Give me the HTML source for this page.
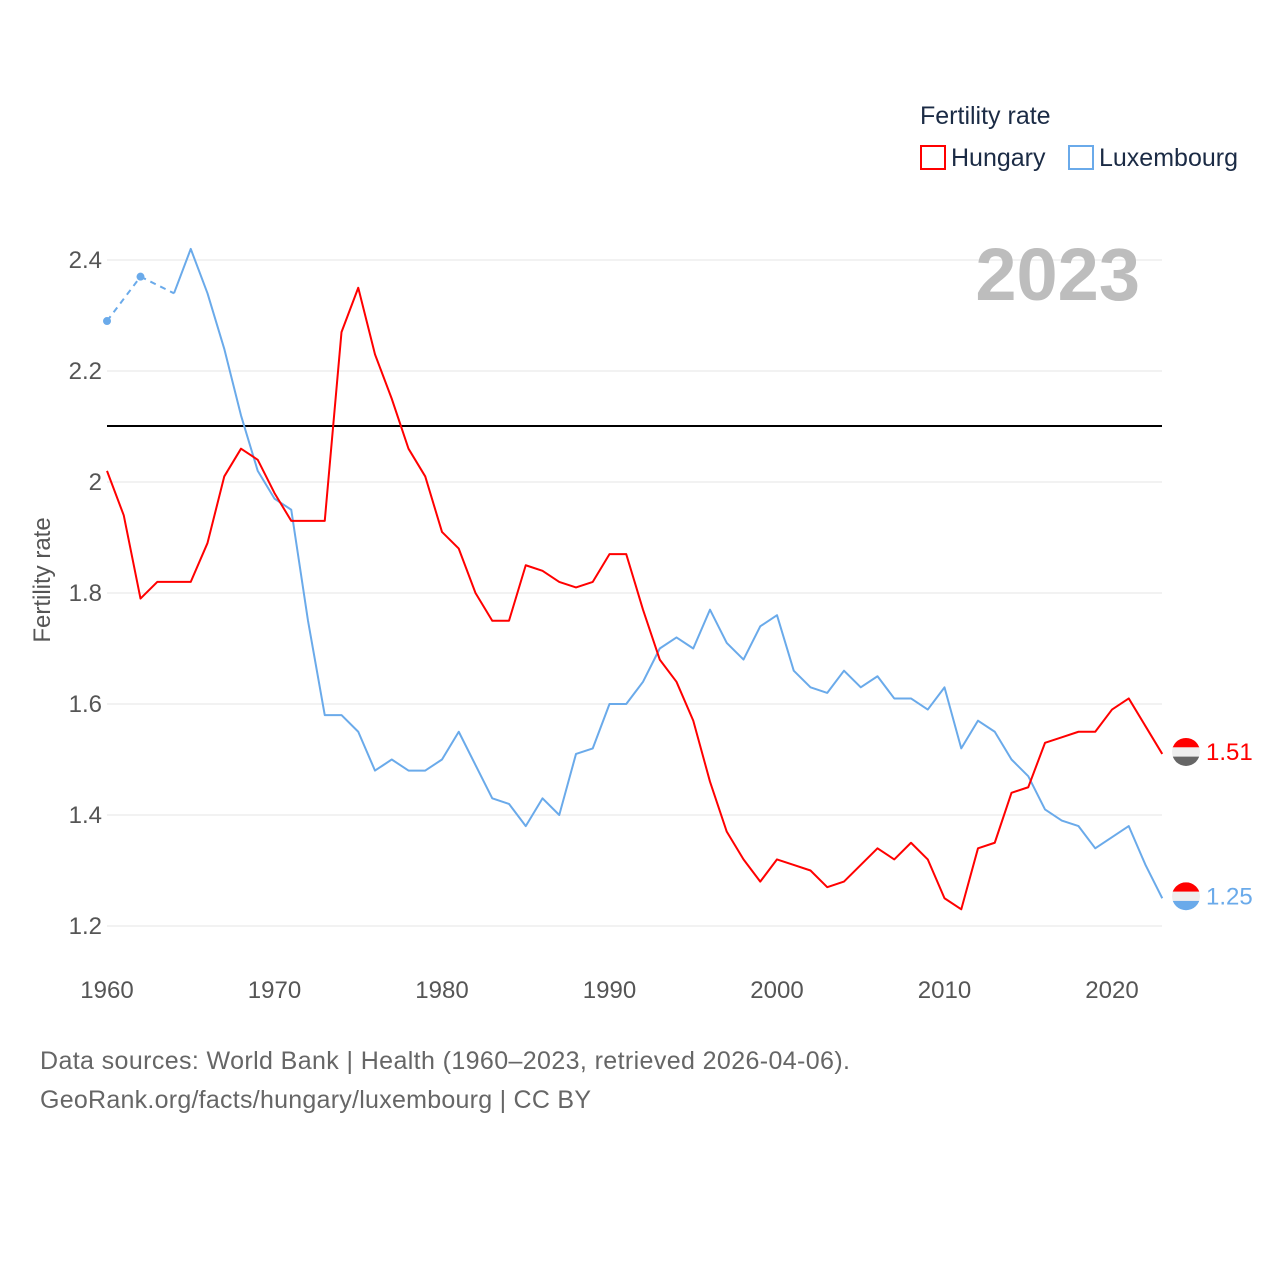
<!DOCTYPE html>
<html><head><meta charset="utf-8"><style>
body{margin:0;background:#fff;}
svg text{font-family:"Liberation Sans",sans-serif;}
</style></head><body>
<svg width="1280" height="1280" xmlns="http://www.w3.org/2000/svg">
<g id="grid"></g>
<g id="xt"></g>
<text x="50" y="580" transform="rotate(-90 50 580)" font-size="24" fill="#555" text-anchor="middle">Fertility rate</text>
<text x="1140" y="300" font-size="74" font-weight="bold" fill="#bdbdbd" text-anchor="end">2023</text>
<line x1="107" x2="1162" y1="426" y2="426" stroke="#000" stroke-width="2"/>
<g id="series"></g>
<text x="920" y="124" font-size="25" fill="#1b2b45">Fertility rate</text>
<g><rect x="921" y="146" width="24" height="23" fill="none" stroke="#f00" stroke-width="2"/><text x="951" y="166" font-size="25" fill="#1b2b45">Hungary</text></g>
<g><rect x="1069" y="146" width="24" height="23" fill="none" stroke="#6aaaea" stroke-width="2"/><text x="1099" y="166" font-size="25" fill="#1b2b45">Luxembourg</text></g>
<text x="40" y="1069" font-size="25" fill="#666" textLength="810" lengthAdjust="spacing">Data sources: World Bank | Health (1960–2023, retrieved 2026-04-06).</text>
<text x="40" y="1108" font-size="25" fill="#666" textLength="551" lengthAdjust="spacing">GeoRank.org/facts/hungary/luxembourg | CC BY</text>
</svg>
<script>
const years=[];for(let y=1960;y<=2023;y++)years.push(y);
const hungary=[2.02,1.94,1.79,1.82,1.82,1.82,1.89,2.01,2.06,2.04,1.98,1.93,1.93,1.93,2.27,2.35,2.23,2.15,2.06,2.01,1.91,1.88,1.80,1.75,1.75,1.85,1.84,1.82,1.81,1.82,1.87,1.87,1.77,1.68,1.64,1.57,1.46,1.37,1.32,1.28,1.32,1.31,1.30,1.27,1.28,1.31,1.34,1.32,1.35,1.32,1.25,1.23,1.34,1.35,1.44,1.45,1.53,1.54,1.55,1.55,1.59,1.61,1.56,1.51];
const luxembourg=[2.29,null,2.37,null,2.34,2.42,2.34,2.24,2.12,2.02,1.97,1.95,1.75,1.58,1.58,1.55,1.48,1.50,1.48,1.48,1.50,1.55,1.49,1.43,1.42,1.38,1.43,1.40,1.51,1.52,1.60,1.60,1.64,1.70,1.72,1.70,1.77,1.71,1.68,1.74,1.76,1.66,1.63,1.62,1.66,1.63,1.65,1.61,1.61,1.59,1.63,1.52,1.57,1.55,1.50,1.47,1.41,1.39,1.38,1.34,1.36,1.38,1.31,1.25];
const yTicks=[1.2,1.4,1.6,1.8,2,2.2,2.4];
const xTicks=[1960,1970,1980,1990,2000,2010,2020];
const X=y=>107+(y-1960)*16.75;
const Y=v=>926-(v-1.2)*555;
const NS="http://www.w3.org/2000/svg";
function el(t,a,p){const e=document.createElementNS(NS,t);for(const k in a)e.setAttribute(k,a[k]);document.getElementById(p).appendChild(e);return e;}
yTicks.forEach(v=>{
 const l=el('line',{x1:107,x2:1162,y1:Y(v),y2:Y(v),stroke:'#e6e6e6','stroke-width':1},'grid');
 
 
 const t=el('text',{x:102,y:Y(v)+8,'font-size':24,fill:'#555','text-anchor':'end'},'grid');
 t.textContent=String(v);
 
 
});
xTicks.forEach(v=>{
 const t=el('text',{x:X(v),y:998,'font-size':24,fill:'#555','text-anchor':'middle'},'xt');
 t.textContent=v;
 
 
});
function draw(vals,color,name){
 const idx=vals.map((v,i)=>v==null?null:i).filter(i=>i!=null);
 let segs=[],cur=[];
 for(let k=0;k<idx.length;k++){
  const i=idx[k];
  if(k>0&&i-idx[k-1]>1){
   const d=el('line',{x1:X(years[idx[k-1]]),y1:Y(vals[idx[k-1]]),x2:X(years[i]),y2:Y(vals[i]),stroke:color,'stroke-width':2,'stroke-dasharray':'6,5'},'series');
   
   
   [idx[k-1]].forEach(j=>{if(j==0||vals[j-1]==null||vals[j+1]==null){const c=el('circle',{cx:X(years[j]),cy:Y(vals[j]),r:4,fill:color},'series');}});
   if(cur.length>1)segs.push(cur);cur=[];
  }
  cur.push(i);
 }
 if(cur.length>1)segs.push(cur);
 segs.forEach(s=>{
  const p=el('polyline',{points:s.map(i=>X(years[i])+','+Y(vals[i])).join(' '),fill:'none',stroke:color,'stroke-width':2,'stroke-linejoin':'round'},'series');
  
  
 });
}
draw(luxembourg,'#6aaaea','luxembourg');
draw(hungary,'#f00','hungary');
function flag(v,cols,color,name){
 const cy=Y(v)-2,cx=1186,r=14;
 const id='c'+name;
 const cp=el('clipPath',{id:id},'series');
 const c=document.createElementNS(NS,'circle');c.setAttribute('cx',cx);c.setAttribute('cy',cy);c.setAttribute('r',r);cp.appendChild(c);
 const g=el('g',{'clip-path':'url(#'+id+')'},'series');
 
 
 cols.forEach((col,k)=>{const rc=document.createElementNS(NS,'rect');rc.setAttribute('x',cx-r);rc.setAttribute('y',cy-r+k*2*r/3);rc.setAttribute('width',2*r);rc.setAttribute('height',2*r/3+0.5);rc.setAttribute('fill',col);g.appendChild(rc);});
 const t=el('text',{x:1206,y:cy+8,'font-size':24,fill:color},'series');
 t.textContent=v.toFixed(2);
 
 
}
flag(hungary[hungary.length-1],['#f00','#eee','#666'],'#f00','hungary');
flag(luxembourg[luxembourg.length-1],['#f00','#eee','#6aaaea'],'#6aaaea','luxembourg');
</script>
</body></html>
